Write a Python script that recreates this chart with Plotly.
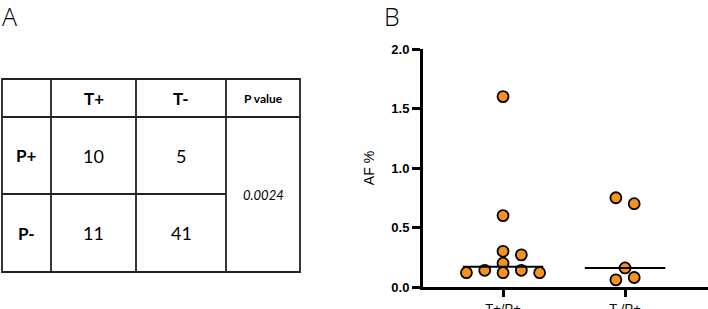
import plotly.graph_objects as go

# ---- Panel A data (contingency table) ----
col_headers = ["", "T+", "T-", "P value"]
row_headers = ["P+", "P-"]
counts = [[10, 5], [11, 41]]
p_value = "0.0024"

# ---- Panel B data ----
categories = ["T+/P+", "T-/P+"]
g1_values = [1.6, 0.6, 0.3, 0.27, 0.2, 0.12, 0.14, 0.12, 0.14, 0.12]
g1_offsets = [0, 0, 0, 0.15, 0, -0.30, -0.15, 0, 0.15, 0.30]
g2_values = [0.75, 0.70, 0.16, 0.06, 0.08]
g2_offsets = [-0.075, 0.075, 0, -0.075, 0.075]
medians = [0.17, 0.16]
y_ticks = [0.0, 0.5, 1.0, 1.5, 2.0]

W, H = 708, 309
def px(x): return x / W
def py(y): return 1 - y / H

fig = go.Figure()

ORANGE = "#F7921C"
for i, (vals, offs) in enumerate([(g1_values, g1_offsets), (g2_values, g2_offsets)]):
    fig.add_trace(go.Scatter(
        x=[i + o for o in offs], y=vals, mode="markers",
        marker=dict(size=11, color=ORANGE, line=dict(color="black", width=1.8)),
        cliponaxis=False, showlegend=False, hoverinfo="y"))
    fig.add_trace(go.Scatter(
        x=[i - 0.33, i + 0.33], y=[medians[i], medians[i]], mode="lines",
        line=dict(color="black", width=2), cliponaxis=False, showlegend=False))

fig.update_layout(
    width=W, height=H, margin=dict(l=0, r=0, t=0, b=0, autoexpand=False),
    plot_bgcolor="white", paper_bgcolor="white",
    xaxis=dict(domain=[px(423), 1.0], range=[-0.656, 1.68], automargin=False,
               tickvals=[0, 1], ticktext=categories, showgrid=False, zeroline=False,
               showline=True, linecolor="black", linewidth=3,
               ticks="outside", ticklen=7, tickwidth=3, tickcolor="black",
               tickfont=dict(family="Arial, Liberation Sans", size=13, color="black")),
    yaxis=dict(domain=[1 - 287 / H, 1 - 49 / H], range=[0, 2.0], automargin=False,
               tickvals=y_ticks, ticktext=[f"{v:.1f}" for v in y_ticks],
               showgrid=False, zeroline=False,
               showline=True, linecolor="black", linewidth=3,
               ticks="outside", ticklen=8, tickwidth=3, tickcolor="black",
               tickfont=dict(family="Arial, Liberation Sans", size=13, color="black", weight="bold"),
               title=dict(text="AF %", standoff=14,
                          font=dict(family="Arial, Liberation Sans", size=14, color="black"))),
)

# ---- Panel A: table drawn with shapes ----
xs = [2, 51, 136, 226, 300]
ys = [79, 117, 194, 272]
lc = "#222222"
lw = 1.8
shapes = []
shapes.append(dict(type="rect", xref="paper", yref="paper",
                   x0=px(xs[0]), x1=px(xs[-1]), y0=py(ys[0]), y1=py(ys[-1]),
                   line=dict(color=lc, width=lw)))
for x in xs[1:-1]:
    shapes.append(dict(type="line", xref="paper", yref="paper",
                       x0=px(x), x1=px(x), y0=py(ys[0]), y1=py(ys[-1]),
                       line=dict(color=lc, width=lw)))
shapes.append(dict(type="line", xref="paper", yref="paper",
                   x0=px(xs[0]), x1=px(xs[-1]), y0=py(ys[1]), y1=py(ys[1]),
                   line=dict(color=lc, width=lw)))
shapes.append(dict(type="line", xref="paper", yref="paper",
                   x0=px(xs[0]), x1=px(xs[3]), y0=py(ys[2]), y1=py(ys[2]),
                   line=dict(color=lc, width=lw)))
fig.update_layout(shapes=shapes)

TF = "Lato, Open Sans, sans-serif"
ann = []
def cell_text(text, cx, cy, size=17, bold=False, italic=False):
    ann.append(dict(x=px(cx), y=py(cy), xref="paper", yref="paper", text=text,
                    showarrow=False, xanchor="center", yanchor="middle",
                    font=dict(family=TF, size=size, color="black",
                              weight="bold" if bold else "normal",
                              style="italic" if italic else "normal")))

colc = [(xs[i] + xs[i + 1]) / 2 for i in range(4)]
rowc = [(ys[i] + ys[i + 1]) / 2 for i in range(3)]
for j in range(1, 3):
    cell_text(col_headers[j], colc[j], rowc[0], size=17, bold=True)
cell_text(col_headers[3], colc[3], rowc[0], size=12, bold=True)
for i in range(2):
    cell_text(row_headers[i], colc[0], rowc[i + 1], size=17, bold=True)
    for j in range(2):
        cell_text(str(counts[i][j]), colc[j + 1], rowc[i + 1], size=18)
cell_text(p_value, colc[3], (ys[1] + ys[3]) / 2, size=13, italic=True)

for letter, lx in [("A", 0), ("B", 382)]:
    ann.append(dict(x=px(lx), y=py(-3), xref="paper", yref="paper", text=letter,
                    showarrow=False, xanchor="left", yanchor="top",
                    font=dict(family="Open Sans, Lato, sans-serif", size=25, color="black", weight=300)))
fig.update_layout(annotations=ann)

fig.write_html("out.html", config={"displayModeBar": False},
               post_script="document.body.style.margin='0';document.body.style.overflow='hidden';")
